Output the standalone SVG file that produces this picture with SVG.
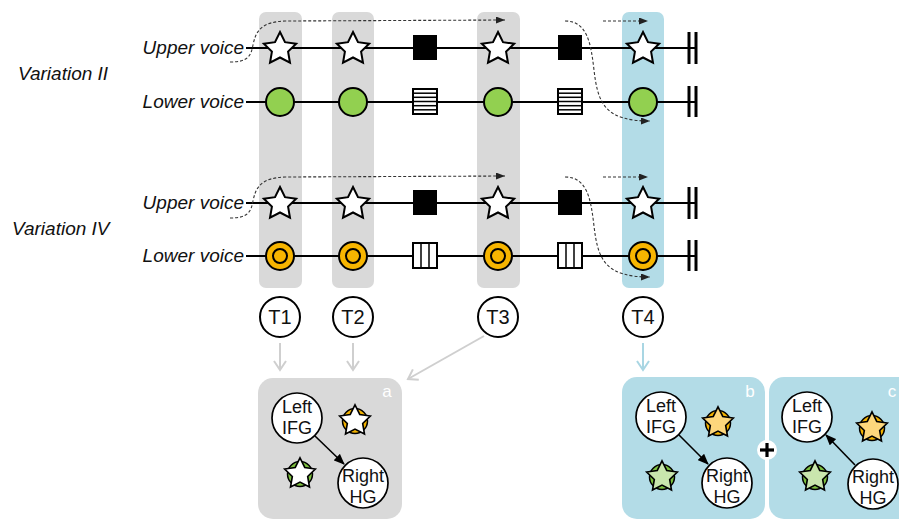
<svg xmlns="http://www.w3.org/2000/svg" xmlns:xlink="http://www.w3.org/1999/xlink" width="899" height="520" viewBox="0 0 899 520">
  <style>
    .lbl { font-family: "Liberation Sans", Arial, sans-serif; font-style: italic; font-size: 19px; fill: #111; }
    .t { font-family: "Liberation Sans", Arial, sans-serif; font-size: 20px; fill: #111; text-anchor: middle; }
    .roi { font-family: "Liberation Sans", Arial, sans-serif; font-size: 18px; fill: #111; text-anchor: middle; }
    .tag { font-family: "Liberation Sans", Arial, sans-serif; font-size: 17px; fill: #fff; text-anchor: middle; }
    .staff { stroke: #000; stroke-width: 2; fill: none; }
    .bar { stroke: #000; stroke-width: 3; }
    .star { fill: #fff; stroke: #000; stroke-width: 2; stroke-linejoin: miter; }
    .green { fill: #92d050; stroke: #000; stroke-width: 2; }
    .orange { fill: #f7b500; stroke: #000; stroke-width: 2; }
    .box { fill: #fff; stroke: #000; stroke-width: 2; }
    .stripe { stroke: #000; stroke-width: 1.5; }
    .col-gray { fill: #d9d9d9; }
    .col-blue { fill: #b3dce7; }
    .dash { fill: none; stroke: #333; stroke-width: 1.1; stroke-dasharray: 3 2; marker-end: url(#hDash); }
    .tnode { fill: #fff; stroke: #000; stroke-width: 2; }
    .roiNode { fill: #fff; stroke: #000; stroke-width: 1.7; }
    .link { stroke: #000; stroke-width: 1.6; marker-end: url(#hBlack); }
    .feedGray { stroke: #cfcfcf; stroke-width: 2; marker-end: url(#hGray); }
    .feedBlue { stroke: #a9d6e3; stroke-width: 2; marker-end: url(#hBlue); }
    .rimStar { stroke: #000; stroke-width: 1.7; stroke-linejoin: miter; }
    .rim { stroke: #000; stroke-width: 1.5; }
  </style>
  <defs>
    <path id="starShape" d="M0,-17 L5,-6.88 L16.17,-5.25 L8.08,2.63 L9.99,13.75 L0,8.5 L-9.99,13.75 L-8.08,2.63 L-16.17,-5.25 L-5,-6.88 Z"/>
    <marker id="hDash" markerUnits="userSpaceOnUse" markerWidth="9" markerHeight="7" refX="9" refY="3.5" orient="auto">
      <path d="M0,0 L9,3.5 L0,7 Z" fill="#222"/>
    </marker>
    <marker id="hBlack" markerUnits="userSpaceOnUse" markerWidth="11" markerHeight="9" refX="10" refY="4.5" orient="auto">
      <path d="M0,0 L11,4.5 L0,9 Z" fill="#000"/>
    </marker>
    <marker id="hGray" markerUnits="userSpaceOnUse" markerWidth="12" markerHeight="14" refX="10" refY="7" orient="auto">
      <path d="M1,1 L10,7 L1,13" fill="none" stroke="#cfcfcf" stroke-width="2"/>
    </marker>
    <marker id="hBlue" markerUnits="userSpaceOnUse" markerWidth="12" markerHeight="14" refX="10" refY="7" orient="auto">
      <path d="M1,1 L10,7 L1,13" fill="none" stroke="#a9d6e3" stroke-width="2"/>
    </marker>
  </defs>

  <!-- time-window columns -->
  <g id="columns">
    <rect class="col-gray" x="259" y="12" width="43" height="276" rx="7"/>
    <rect class="col-gray" x="332" y="12" width="42" height="276" rx="7"/>
    <rect class="col-gray" x="477" y="12" width="43" height="276" rx="7"/>
    <rect class="col-blue" x="622" y="12" width="42" height="276" rx="7"/>
  </g>

  <!-- row labels -->
  <g id="labels">
    <text class="lbl" x="18" y="80">Variation II</text>
    <text class="lbl" x="12" y="235">Variation IV</text>
    <text class="lbl" x="244" y="54" text-anchor="end">Upper voice</text>
    <text class="lbl" x="244" y="108" text-anchor="end">Lower voice</text>
    <text class="lbl" x="244" y="209" text-anchor="end">Upper voice</text>
    <text class="lbl" x="244" y="262" text-anchor="end">Lower voice</text>
  </g>

  <!-- staff lines and end bars -->
  <g id="staves">
    <line class="staff" x1="246" y1="48" x2="697" y2="48"/>
    <line class="staff" x1="246" y1="102" x2="697" y2="102"/>
    <line class="staff" x1="246" y1="203" x2="697" y2="203"/>
    <line class="staff" x1="246" y1="256" x2="697" y2="256"/>
    <line class="bar" x1="689" y1="32" x2="689" y2="64"/>
    <line class="bar" x1="696" y1="32" x2="696" y2="64"/>
    <line class="bar" x1="689" y1="86" x2="689" y2="117"/>
    <line class="bar" x1="696" y1="86" x2="696" y2="117"/>
    <line class="bar" x1="689" y1="187" x2="689" y2="219"/>
    <line class="bar" x1="696" y1="187" x2="696" y2="219"/>
    <line class="bar" x1="689" y1="240" x2="689" y2="271"/>
    <line class="bar" x1="696" y1="240" x2="696" y2="271"/>
  </g>

  <!-- Variation II, upper voice -->
  <g id="v2-upper">
    <use href="#starShape" class="star" x="280" y="49"/>
    <use href="#starShape" class="star" x="353" y="49"/>
    <rect x="413" y="35" width="24" height="25" fill="#000"/>
    <use href="#starShape" class="star" x="498" y="49"/>
    <rect x="558" y="35" width="24" height="25" fill="#000"/>
    <use href="#starShape" class="star" x="643" y="49"/>
  </g>

  <!-- Variation II, lower voice -->
  <g id="v2-lower">
    <circle class="green" cx="280" cy="102" r="14"/>
    <circle class="green" cx="353" cy="102" r="14"/>
    <g>
      <rect class="box" x="413" y="89" width="24" height="25"/>
      <line class="stripe" x1="413" y1="93.2" x2="437" y2="93.2"/>
      <line class="stripe" x1="413" y1="97.3" x2="437" y2="97.3"/>
      <line class="stripe" x1="413" y1="101.5" x2="437" y2="101.5"/>
      <line class="stripe" x1="413" y1="105.7" x2="437" y2="105.7"/>
      <line class="stripe" x1="413" y1="109.8" x2="437" y2="109.8"/>
    </g>
    <circle class="green" cx="498" cy="102" r="14"/>
    <g>
      <rect class="box" x="558" y="89" width="24" height="25"/>
      <line class="stripe" x1="558" y1="93.2" x2="582" y2="93.2"/>
      <line class="stripe" x1="558" y1="97.3" x2="582" y2="97.3"/>
      <line class="stripe" x1="558" y1="101.5" x2="582" y2="101.5"/>
      <line class="stripe" x1="558" y1="105.7" x2="582" y2="105.7"/>
      <line class="stripe" x1="558" y1="109.8" x2="582" y2="109.8"/>
    </g>
    <circle class="green" cx="643" cy="102" r="14"/>
  </g>

  <!-- Variation IV, upper voice -->
  <g id="v4-upper">
    <use href="#starShape" class="star" x="280" y="204"/>
    <use href="#starShape" class="star" x="353" y="204"/>
    <rect x="413" y="190" width="24" height="25" fill="#000"/>
    <use href="#starShape" class="star" x="498" y="204"/>
    <rect x="558" y="190" width="24" height="25" fill="#000"/>
    <use href="#starShape" class="star" x="643" y="204"/>
  </g>

  <!-- Variation IV, lower voice -->
  <g id="v4-lower">
    <circle class="orange" cx="280" cy="256" r="14"/>
    <circle class="orange" cx="280" cy="256" r="7"/>
    <circle class="orange" cx="353" cy="256" r="14"/>
    <circle class="orange" cx="353" cy="256" r="7"/>
    <g>
      <rect class="box" x="413" y="243" width="24" height="25"/>
      <line class="stripe" x1="421" y1="243" x2="421" y2="268"/>
      <line class="stripe" x1="429" y1="243" x2="429" y2="268"/>
    </g>
    <circle class="orange" cx="498" cy="256" r="14"/>
    <circle class="orange" cx="498" cy="256" r="7"/>
    <g>
      <rect class="box" x="558" y="243" width="24" height="25"/>
      <line class="stripe" x1="566" y1="243" x2="566" y2="268"/>
      <line class="stripe" x1="574" y1="243" x2="574" y2="268"/>
    </g>
    <circle class="orange" cx="643" cy="256" r="14"/>
    <circle class="orange" cx="643" cy="256" r="7"/>
  </g>

  <!-- dotted voice-flow arrows -->
  <g id="flow">
    <path class="dash" d="M230,62 C248,62 251,56 253,45 C256,30 262,22 285,21 L505,20"/>
    <path class="dash" d="M565,21 C588,21 591,45 594,70 C598,105 606,121 650,121"/>
    <path class="dash" d="M603,21 L648,21"/>
    <path class="dash" d="M230,218 C248,218 251,212 253,201 C256,186 262,178 285,177 L505,176"/>
    <path class="dash" d="M565,177 C588,177 591,201 594,226 C598,261 606,277 650,277"/>
    <path class="dash" d="M603,177 L648,177"/>
  </g>

  <!-- time points -->
  <g id="T1"><circle class="tnode" cx="280" cy="317" r="20"/><text class="t" x="280" y="324">T1</text></g>
  <g id="T2"><circle class="tnode" cx="353" cy="317" r="20"/><text class="t" x="353" y="324">T2</text></g>
  <g id="T3"><circle class="tnode" cx="498" cy="317" r="20"/><text class="t" x="498" y="324">T3</text></g>
  <g id="T4"><circle class="tnode" cx="643" cy="317" r="20"/><text class="t" x="643" y="324">T4</text></g>

  <!-- panel a -->
  <g id="panel-a">
    <rect x="258" y="378" width="144" height="141" rx="15" fill="#d9d9d9"/>
    <text class="tag" x="387" y="397">a</text>
    <g>
      <circle class="rim" cx="355" cy="421" r="12.5" fill="#f2b200"/>
      <use href="#starShape" class="rimStar" fill="#fff" transform="translate(355,421) scale(0.95)"/>
    </g>
    <g>
      <circle class="rim" cx="300" cy="474" r="12.5" fill="#7cbf3e"/>
      <use href="#starShape" class="rimStar" fill="#fff" transform="translate(300,474) scale(0.95)"/>
    </g>
    <g id="a-left-ifg"><circle class="roiNode" cx="297" cy="418" r="25"/><text class="roi" x="297" y="413">Left</text><text class="roi" x="297" y="434">IFG</text></g>
    <g id="a-right-hg"><circle class="roiNode" cx="363" cy="483" r="25"/><text class="roi" x="363" y="482">Right</text><text class="roi" x="363" y="503">HG</text></g>
  </g>

  <!-- panel b -->
  <g id="panel-b">
    <rect x="622" y="377" width="143" height="142" rx="15" fill="#b3dce7"/>
    <text class="tag" x="750" y="397">b</text>
    <g>
      <circle class="rim" cx="718" cy="423" r="12.5" fill="#f2b200"/>
      <use href="#starShape" class="rimStar" fill="#fdd77c" transform="translate(718,423) scale(0.95)"/>
    </g>
    <g>
      <circle class="rim" cx="662" cy="477" r="12.5" fill="#7cbf3e"/>
      <use href="#starShape" class="rimStar" fill="#c9e6ad" transform="translate(662,477) scale(0.95)"/>
    </g>
    <g id="b-left-ifg"><circle class="roiNode" cx="661" cy="417" r="25"/><text class="roi" x="661" y="412">Left</text><text class="roi" x="661" y="433">IFG</text></g>
    <g id="b-right-hg"><circle class="roiNode" cx="727" cy="483" r="25"/><text class="roi" x="727" y="482">Right</text><text class="roi" x="727" y="503">HG</text></g>
  </g>

  <!-- panel c -->
  <g id="panel-c">
    <rect x="769" y="377" width="143" height="142" rx="15" fill="#b3dce7"/>
    <text class="tag" x="892" y="397">c</text>
    <g>
      <circle class="rim" cx="872" cy="428" r="12.5" fill="#f2b200"/>
      <use href="#starShape" class="rimStar" fill="#fdd77c" transform="translate(872,428) scale(0.95)"/>
    </g>
    <g>
      <circle class="rim" cx="815" cy="477" r="12.5" fill="#7cbf3e"/>
      <use href="#starShape" class="rimStar" fill="#c9e6ad" transform="translate(815,477) scale(0.95)"/>
    </g>
    <g id="c-left-ifg"><circle class="roiNode" cx="807" cy="417" r="25"/><text class="roi" x="807" y="412">Left</text><text class="roi" x="807" y="433">IFG</text></g>
    <g id="c-right-hg"><circle class="roiNode" cx="873" cy="484" r="25"/><text class="roi" x="873" y="483">Right</text><text class="roi" x="873" y="504">HG</text></g>
  </g>

  <!-- combining sign between b and c -->
  <g id="plus">
    <circle cx="767" cy="450" r="10" fill="#fff"/>
    <line x1="760" y1="450" x2="774" y2="450" stroke="#000" stroke-width="3.2"/>
    <line x1="767" y1="443" x2="767" y2="457" stroke="#000" stroke-width="3.2"/>
  </g>

  <!-- connectors -->
  <g id="connectors">
    <line class="feedGray" x1="280" y1="343" x2="280" y2="370"/>
    <line class="feedGray" x1="353" y1="343" x2="353" y2="370"/>
    <line class="feedGray" x1="484" y1="336" x2="408" y2="379"/>
    <line class="feedBlue" x1="643" y1="343" x2="643" y2="370"/>
    <line class="link" x1="315" y1="436" x2="344" y2="464"/>
    <line class="link" x1="679" y1="435" x2="708" y2="464"/>
    <line class="link" x1="855" y1="465" x2="826" y2="435"/>
  </g>
</svg>
